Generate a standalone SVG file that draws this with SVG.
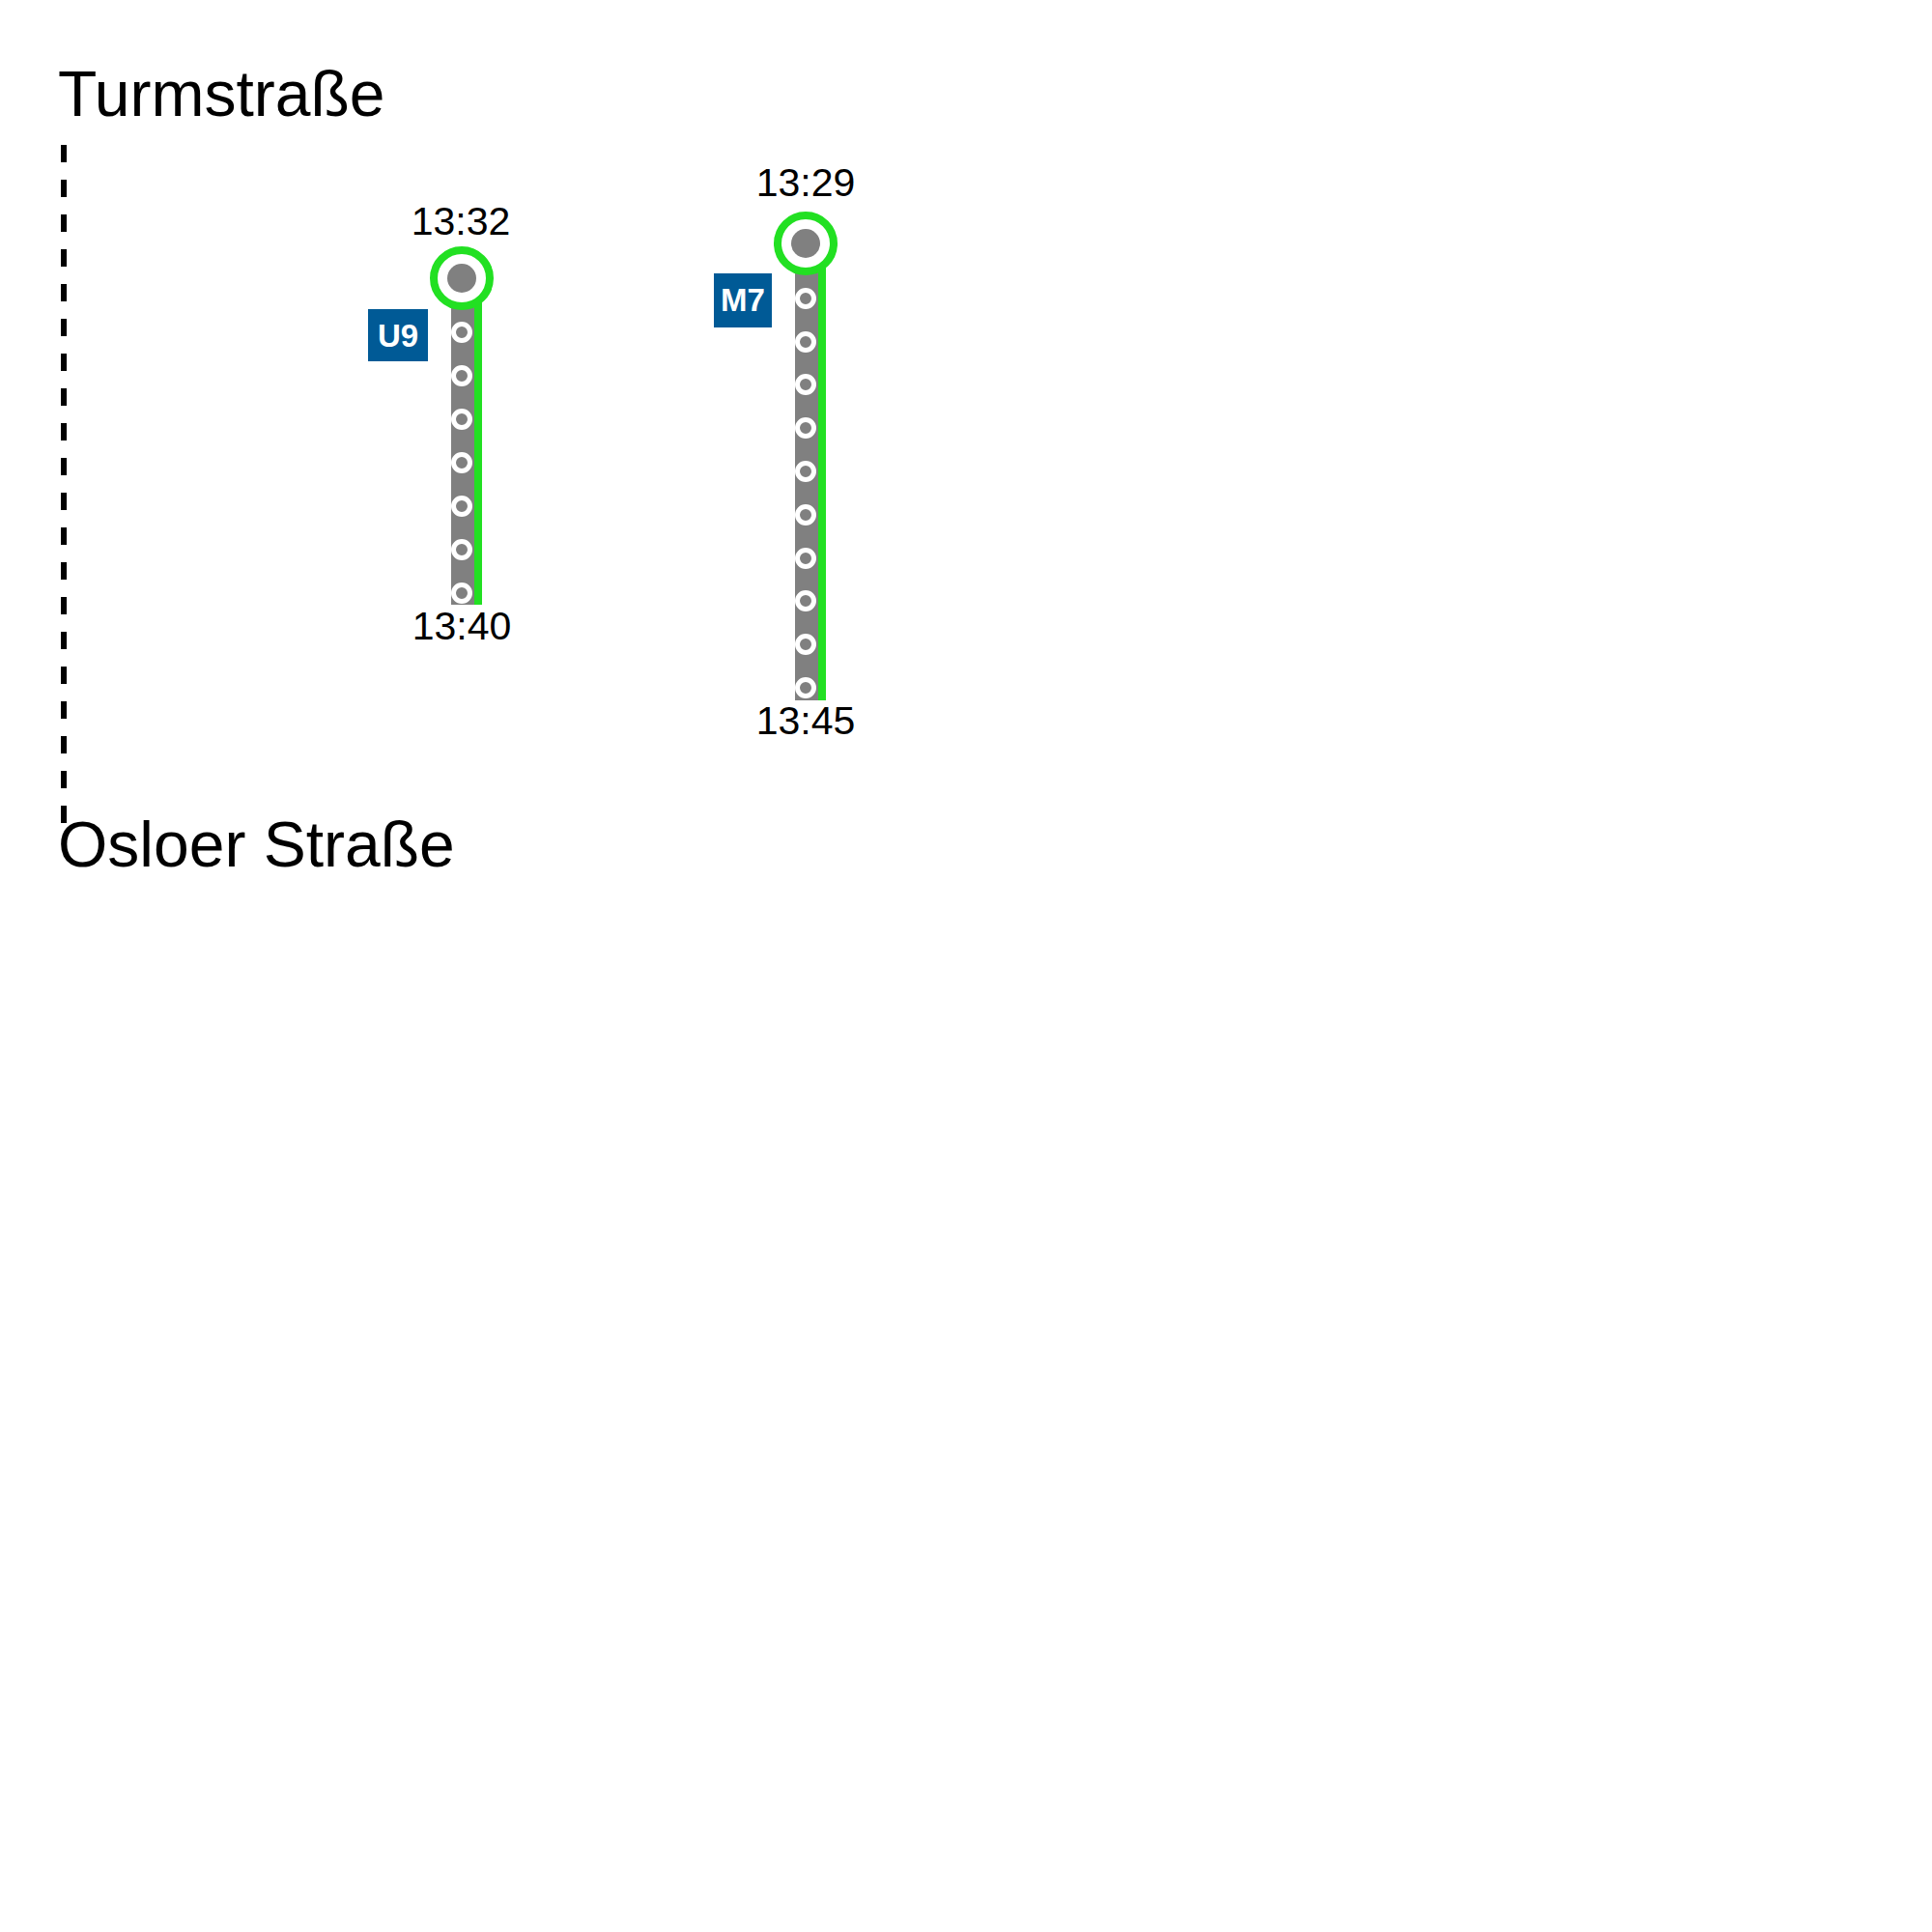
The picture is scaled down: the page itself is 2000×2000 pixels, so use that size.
<svg xmlns="http://www.w3.org/2000/svg" width="2000" height="2000" viewBox="0 0 2000 2000">
<style>
.title{font-family:"Liberation Sans",Arial,sans-serif;font-size:66px;fill:#000}
.time{font-family:"Liberation Sans",Arial,sans-serif;font-size:41px;fill:#000;text-anchor:middle}
.badge{fill:#005a96}
.badgetxt{font-family:"Liberation Sans",Arial,sans-serif;font-weight:bold;font-size:33px;fill:#fff;text-anchor:middle}
.bar{fill:#808080}
.green{fill:#22e022}
.stop{fill:#808080;stroke:#fff;stroke-width:5}
.ring{fill:#fff;stroke:#22e022;stroke-width:8}
.dot{fill:#808080}
.walk{stroke:#000;stroke-width:6;stroke-dasharray:18 18;fill:none}
</style>
<rect width="2000" height="2000" fill="#fff"/>
<g id="connectors">
<line class="walk" x1="66" y1="150" x2="66" y2="852"/>
</g>
<g id="turmstrasse">
<text class="title" x="60" y="120">Turmstraße</text>
</g>
<g id="osloer-strasse">
<text class="title" x="60" y="897">Osloer Straße</text>
</g>
<g id="u9">
<rect class="bar" x="467" y="288" width="24" height="338"/>
<rect class="green" x="491" y="288" width="8" height="338"/>
<circle class="stop" cx="478" cy="344" r="8.5"/>
<circle class="stop" cx="478" cy="389" r="8.5"/>
<circle class="stop" cx="478" cy="434" r="8.5"/>
<circle class="stop" cx="478" cy="479" r="8.5"/>
<circle class="stop" cx="478" cy="524" r="8.5"/>
<circle class="stop" cx="478" cy="569" r="8.5"/>
<circle class="stop" cx="478" cy="614" r="8.5"/>
<circle class="ring" cx="478" cy="288" r="29"/>
<circle class="dot" cx="478" cy="288" r="15"/>
<text class="time" x="477" y="243">13:32</text>
<text class="time" x="478" y="662">13:40</text>
<rect class="badge" x="381" y="320" width="62" height="54"/>
<text class="badgetxt" x="412" y="359">U9</text>
</g>
<g id="m7">
<rect class="bar" x="823" y="252" width="24" height="473"/>
<rect class="green" x="847" y="252" width="8" height="473"/>
<circle class="stop" cx="834" cy="309" r="8.5"/>
<circle class="stop" cx="834" cy="354" r="8.5"/>
<circle class="stop" cx="834" cy="398" r="8.5"/>
<circle class="stop" cx="834" cy="443" r="8.5"/>
<circle class="stop" cx="834" cy="488" r="8.5"/>
<circle class="stop" cx="834" cy="533" r="8.5"/>
<circle class="stop" cx="834" cy="578" r="8.5"/>
<circle class="stop" cx="834" cy="622" r="8.5"/>
<circle class="stop" cx="834" cy="667" r="8.5"/>
<circle class="stop" cx="834" cy="712" r="8.5"/>
<circle class="ring" cx="834" cy="252" r="29"/>
<circle class="dot" cx="834" cy="252" r="15"/>
<text class="time" x="834" y="203">13:29</text>
<text class="time" x="834" y="760">13:45</text>
<rect class="badge" x="739" y="283" width="60" height="56"/>
<text class="badgetxt" x="769" y="322">M7</text>
</g>
</svg>
